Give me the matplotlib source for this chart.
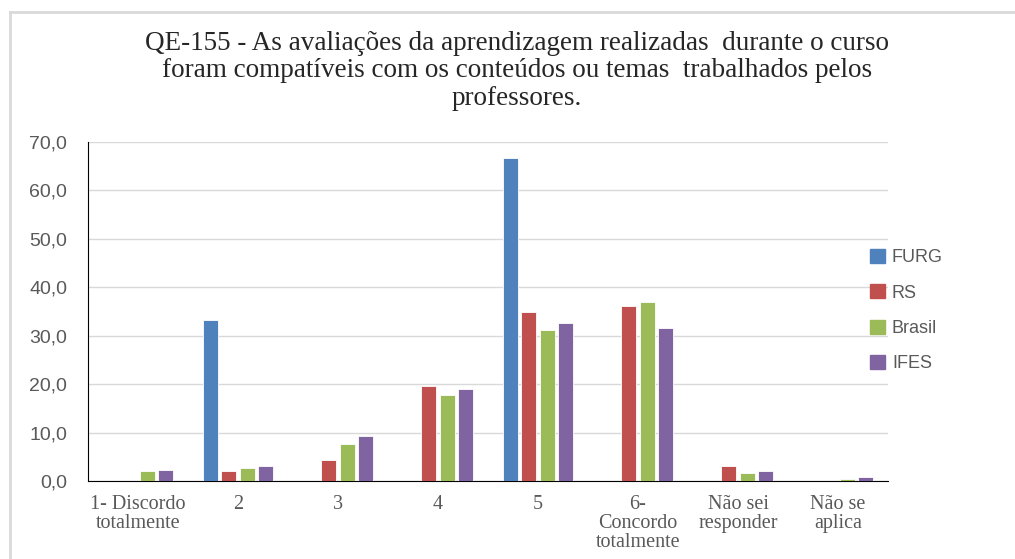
import numpy as np
import matplotlib
matplotlib.use("Agg")
import matplotlib.pyplot as plt
from matplotlib.lines import Line2D

categories = ["1- Discordo\ntotalmente", "2", "3", "4", "5",
              "6-\nConcordo\ntotalmente", "Não sei\nresponder", "Não se\naplica"]
series_names = ["FURG", "RS", "Brasil", "IFES"]
furg = [0.0, 33.3, 0.0, 0.0, 66.7, 0.0, 0.0, 0.0]
rs = [0.0, 2.1, 4.3, 19.6, 34.9, 36.1, 3.2, 0.0]
brasil = [2.1, 2.7, 7.6, 17.8, 31.1, 37.0, 1.7, 0.5]
ifes = [2.3, 3.0, 9.2, 19.1, 32.7, 31.6, 2.1, 0.8]
colors = ["#4F81BD", "#C0504D", "#9BBB59", "#8064A2"]

title = ("QE-155 - As avaliações da aprendizagem realizadas  durante o curso\n"
         "foram compatíveis com os conteúdos ou temas  trabalhados pelos\n"
         "professores.")

W, H = 1015, 559
fig = plt.figure(figsize=(W / 100, H / 100), dpi=100, facecolor="white")
ax = fig.add_axes([88 / W, 1 - 481 / H, 800 / W, (481 - 142) / H])

x = np.arange(len(categories))
width = 0.15
stride = 0.185
for i, (name, vals) in enumerate(zip(series_names, [furg, rs, brasil, ifes])):
    ax.bar(x + (i - 1.5) * stride, vals, width, color=colors[i], label=name,
           edgecolor="white", linewidth=0.6, zorder=3)

ax.set_xlim(-0.5, len(categories) - 0.5)
ax.set_ylim(0, 70)
ax.set_yticks(np.arange(0, 71, 10))
ax.set_yticklabels([f"{v:.1f}".replace(".", ",") for v in np.arange(0, 71, 10)],
                   fontsize=14, color="#595959", family="Liberation Sans")
ax.set_xticks(x)
ax.set_xticklabels(categories, fontsize=14.5, color="#595959",
                   family="Liberation Serif", linespacing=1.0)
ax.tick_params(axis="both", length=0)
ax.tick_params(axis="y", pad=15)
ax.tick_params(axis="x", pad=10)
ax.yaxis.grid(True, color="#d9d9d9", linewidth=1, zorder=0)
ax.set_axisbelow(True)
for s in ["top", "right"]:
    ax.spines[s].set_visible(False)
ax.spines["left"].set_color("black")
ax.spines["bottom"].set_color("black")

fig.text(517 / W, 1 - 31 / H, title, ha="center", va="top", fontsize=19.5,
         family="Liberation Serif", color="#262626", linespacing=1.12)

handles = [plt.Rectangle((0, 0), 1, 1, color=c) for c in colors]
fig.legend(handles, series_names, loc="upper left",
           bbox_to_anchor=(854 / W, 1 - 233 / H), frameon=False,
           labelcolor="#595959", handlelength=0.8,
           handleheight=0.8, handletextpad=0.4, labelspacing=1.0,
           prop={"family": "Liberation Sans", "size": 13})

fig.add_artist(Line2D([10 / W, 10 / W], [0, 1 - 12 / H], color="#d9d9d9", lw=2))
fig.add_artist(Line2D([10 / W, 1], [1 - 12 / H, 1 - 12 / H], color="#d9d9d9", lw=2))

fig.savefig("out.png", dpi=100)
